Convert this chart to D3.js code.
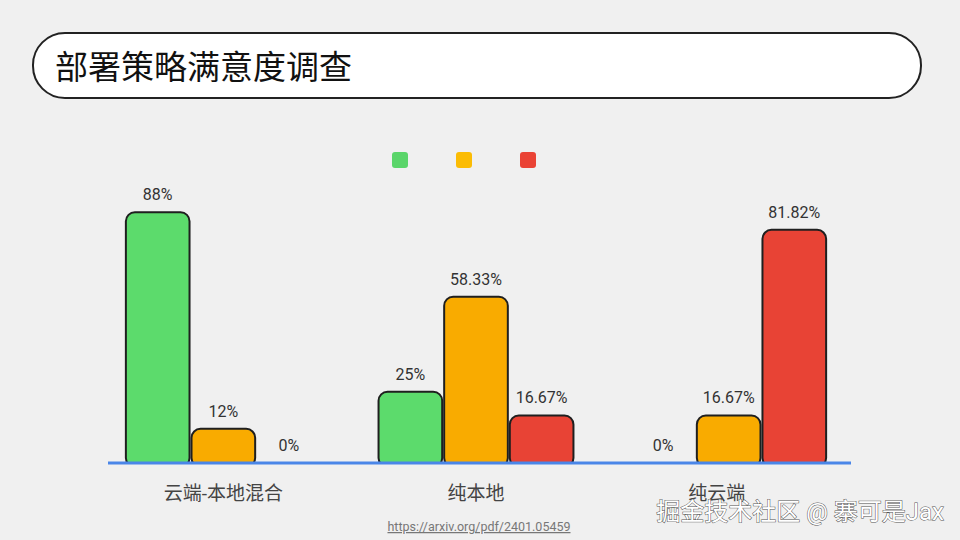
<!DOCTYPE html>
<html><head><meta charset="utf-8">
<script src="https://cdn.jsdelivr.net/npm/d3@7"></script>
<style>
html,body{margin:0;padding:0;background:#f0f0f0;}
svg{display:block;}
text{font-family:Roboto,"Noto Sans CJK SC",sans-serif;}
</style></head>
<body>
<svg id="chart" width="960" height="540"></svg>
<script>
const title = "部署策略满意度调查";
const categories = ["云端-本地混合", "纯本地", "纯云端"];
const series = ["s1", "s2", "s3"];
const seriesColors = ["#5cdb6c", "#f9ab00", "#e84335"];
const legendColors = ["#5ad56a", "#fbbc04", "#ea4335"];
const values1 = [88, 25, 0];
const values2 = [12, 58.33, 16.67];
const values3 = [0, 16.67, 81.82];
const source = "https://arxiv.org/pdf/2401.05459";
const watermark = "掘金技术社区 @ 寨可是Jax";

const svg = d3.select("#chart");
svg.append("rect").attr("width",960).attr("height",540).attr("fill","#f0f0f0");

// Title box
svg.append("rect").attr("x",33).attr("y",33).attr("width",888).attr("height",65)
  .attr("rx",32).attr("fill","#fff").attr("stroke","#222").attr("stroke-width",2);
svg.append("text").attr("x",55).attr("y",79).attr("font-size",33)
  .attr("font-family","'Noto Sans CJK SC',sans-serif").attr("fill","#111").text(title);

const data = categories.map((c,i)=>({cat:c, vals:[values1[i],values2[i],values3[i]]}));

const x0 = d3.scaleBand().domain(categories).range([97, 855]);
const x1 = d3.scaleBand().domain(series).range([0, x0.bandwidth()]).paddingInner(0.03).paddingOuter(0.44);
const y = d3.scaleLinear().domain([0,100]).range([463,178]);

// Legend
const lg = d3.scalePoint().domain(series).range([400, 528]);
svg.selectAll(".lg").data(series).enter().append("rect")
  .attr("x",d=>lg(d)-8).attr("y",152).attr("width",16).attr("height",16).attr("rx",3)
  .attr("fill",(d,i)=>legendColors[i]);

const g = svg.selectAll(".grp").data(data).enter().append("g")
  .attr("transform",d=>`translate(${x0(d.cat)},0)`);

const items = g.selectAll(".bar").data(d=>d.vals.map((v,i)=>({key:series[i],v,i}))).enter();
items.filter(d=>d.v>0).append("rect")
  .attr("x",d=>x1(d.key)).attr("width",x1.bandwidth())
  .attr("y",d=>y(d.v)).attr("height",d=>y(0)-y(d.v)+4)
  .attr("rx",9).attr("fill",d=>seriesColors[d.i]).attr("stroke","#1f1f1f").attr("stroke-width",2);
items.append("text")
  .attr("x",d=>x1(d.key)+x1.bandwidth()/2).attr("y",d=>y(d.v)-12)
  .attr("text-anchor","middle").attr("font-size",16).attr("fill","#333")
  .text(d=>`${d.v}%`);

// cover bottom of bars and draw baseline
svg.append("rect").attr("x",100).attr("y",464).attr("width",760).attr("height",10).attr("fill","#f0f0f0");
svg.append("line").attr("x1",108).attr("x2",851).attr("y1",463).attr("y2",463)
  .attr("stroke","#4a86e8").attr("stroke-width",3);

// category labels
svg.selectAll(".cat").data(categories).enter().append("text")
  .attr("x",d=>x0(d)+x0.bandwidth()/2 - (d==="纯云端"?12:0)).attr("y",500).attr("text-anchor","middle")
  .attr("font-size",19).attr("fill","#444").attr("font-family","'Noto Sans CJK SC',sans-serif")
  .text(d=>d);

// source
svg.append("text").attr("x",479).attr("y",531).attr("text-anchor","middle")
  .attr("font-size",12.5).attr("fill","#777").attr("text-decoration","underline")
  .attr("font-family","'Liberation Sans Narrow','Liberation Sans',sans-serif").text(source);

// watermark
svg.append("text").attr("x",944).attr("y",520).attr("text-anchor","end")
  .attr("font-size",24).attr("fill","#fff").attr("stroke","#555").attr("stroke-width",1)
  .attr("paint-order","stroke")
  .attr("font-family","'Noto Sans CJK SC',sans-serif").text(watermark);
</script>
</body></html>
